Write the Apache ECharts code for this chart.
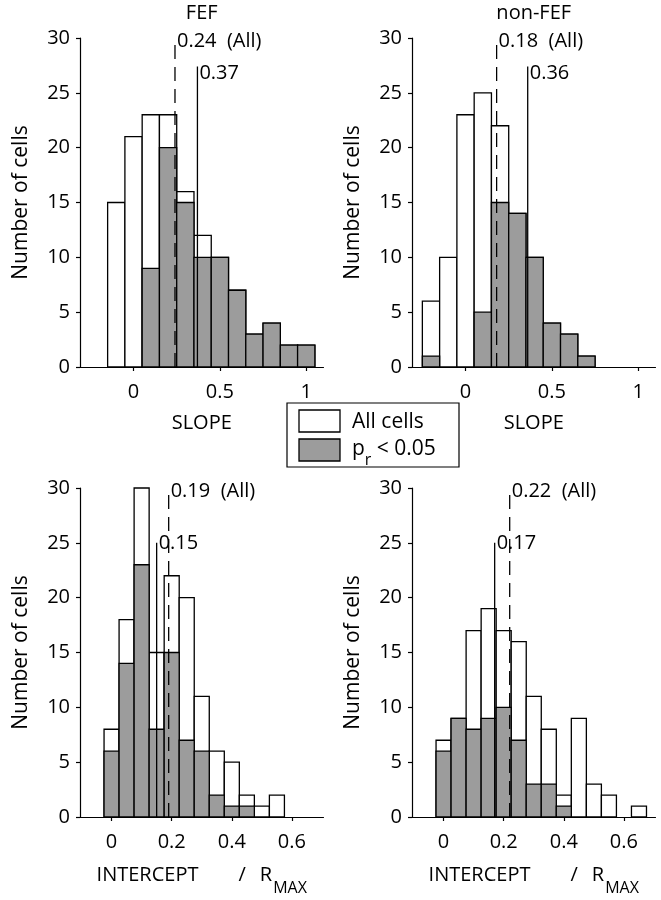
<!DOCTYPE html>
<html><head><meta charset="utf-8">
<script src="https://cdn.jsdelivr.net/npm/echarts@6/dist/echarts.min.js"></script>
<style>html,body{margin:0;padding:0;background:#fff}#c{width:661px;height:900px}</style>
</head><body><div id="c"></div>
<script>
// ---- data ----
const slopeBinsFEF = [-0.1, 0, 0.1, 0.2, 0.3, 0.4, 0.5, 0.6, 0.7, 0.8, 0.9, 1.0];
const slopeAllFEF  = [15, 21, 23, 23, 16, 12, 10, 7, 3, 4, 2, 2];
const slopeSigFEF  = [0, 0, 9, 20, 15, 10, 10, 7, 3, 4, 2, 2];

const slopeBinsNon = [-0.2, -0.1, 0, 0.1, 0.2, 0.3, 0.4, 0.5, 0.6, 0.7];
const slopeAllNon  = [6, 10, 23, 25, 22, 14, 10, 4, 3, 1];
const slopeSigNon  = [1, 0, 0, 5, 15, 14, 10, 4, 3, 1];

const interBinsFEF = [0, 0.05, 0.1, 0.15, 0.2, 0.25, 0.3, 0.35, 0.4, 0.45, 0.5, 0.55];
const interAllFEF  = [8, 18, 30, 15, 22, 20, 11, 6, 5, 2, 1, 2];
const interSigFEF  = [6, 14, 23, 8, 15, 7, 6, 2, 1, 1, 0, 0];

const interBinsNon = [0, 0.05, 0.1, 0.15, 0.2, 0.25, 0.3, 0.35, 0.4, 0.45, 0.5, 0.55, 0.6, 0.65];
const interAllNon  = [7, 9, 17, 19, 17, 16, 11, 8, 2, 9, 3, 2, 0, 1];
const interSigNon  = [6, 9, 8, 9, 10, 7, 3, 3, 1, 0, 0, 0, 0, 0];

const medianAll = [0.24, 0.18, 0.19, 0.22];
const medianSig = [0.37, 0.36, 0.15, 0.17];

const panelTitles = ['FEF', 'non-FEF'];
const slopeTicks = [0, 0.5, 1];
const interceptTicks = [0, 0.2, 0.4, 0.6];
const legendNames = ['All cells', 'p_r < 0.05'];

// ---- layout ----
const FONT = 'Open Sans';
const GRAY = '#9c9c9c';
const panels = [
  {bins: slopeBinsFEF, all: slopeAllFEF, sig: slopeSigFEF, bw: 0.1, ticks: slopeTicks, min: -0.31, max: 1.1, left: 80, top: 38, sigTop: 27.4, sigLab: 26.8, name: 'slope'},
  {bins: slopeBinsNon, all: slopeAllNon, sig: slopeSigNon, bw: 0.1, ticks: slopeTicks, min: -0.31, max: 1.1, left: 412, top: 38, sigTop: 27.4, sigLab: 26.8, name: 'slope'},
  {bins: interBinsFEF, all: interAllFEF, sig: interSigFEF, bw: 0.05, ticks: interceptTicks, min: -0.105, max: 0.705, left: 80, top: 488, sigTop: 25, sigLab: 25, name: 'inter'},
  {bins: interBinsNon, all: interAllNon, sig: interSigNon, bw: 0.05, ticks: interceptTicks, min: -0.105, max: 0.705, left: 412, top: 488, sigTop: 25, sigLab: 25, name: 'inter'}
];
const GW = 243.5, GH = 329;

function barRender(fill, half) {
  return function (params, api) {
    const x = api.value(0), y = api.value(1);
    if (!(y > 0)) return null;
    const p0 = api.coord([x - half, y]);
    const p1 = api.coord([x + half, 0]);
    return {
      type: 'rect',
      shape: {x: p0[0], y: p0[1], width: p1[0] - p0[0], height: p1[1] - p0[1]},
      style: {fill: fill, stroke: '#000', lineWidth: 1.3}
    };
  };
}

const grid = [], xAxis = [], yAxis = [], series = [];
panels.forEach((p, i) => {
  grid.push({left: p.left, top: p.top, width: GW, height: GH, containLabel: false});
  const xa = {
    type: 'value', gridIndex: i, min: p.min, max: p.max,
    axisLine: {show: true, onZero: false, lineStyle: {color: '#000', width: 1.2}},
    axisTick: {show: true, length: 4, inside: false, customValues: p.ticks, lineStyle: {color: '#000', width: 1.2}},
    axisLabel: {show: true, customValues: p.ticks, color: '#000', fontSize: 20, fontFamily: FONT, margin: 15},
    splitLine: {show: false}
  };
  if (p.name === 'slope') {
    xa.name = 'SLOPE';
    xa.nameLocation = 'middle';
    xa.nameGap = 46;
    xa.nameTextStyle = {color: '#000', fontSize: 20, fontFamily: FONT};
  } else {
    xa.name = '{a|INTERCEPT}{g1| }{a|/}{g2| }{a|R}{s|MAX}';
    xa.nameLocation = 'middle';
    xa.nameGap = 48;
    xa.nameTextStyle = {
      color: '#000', fontFamily: FONT, fontSize: 20,
      rich: {
        a: {fontSize: 20, fontFamily: FONT, color: '#000', lineHeight: 22, verticalAlign: 'top'},
        g1: {width: 40, lineHeight: 22, verticalAlign: 'top'},
        g2: {width: 14, lineHeight: 22, verticalAlign: 'top'},
        s: {fontSize: 16, fontFamily: FONT, color: '#000', lineHeight: 16, verticalAlign: 'top', padding: [15, 0, 0, 1]}
      }
    };
  }
  xAxis.push(xa);
  yAxis.push({
    type: 'value', gridIndex: i, min: 0, max: 30, interval: 5,
    axisLine: {show: true, onZero: false, lineStyle: {color: '#000', width: 1.2}},
    axisTick: {show: true, length: 4, inside: false, lineStyle: {color: '#000', width: 1.2}},
    axisLabel: {color: '#000', fontSize: 20, fontFamily: FONT, margin: 10},
    splitLine: {show: false},
    name: 'Number of cells', nameLocation: 'middle', nameGap: 48,
    nameTextStyle: {color: '#000', fontSize: 21, fontFamily: FONT}
  });
  const allData = p.bins.map((b, k) => [b, p.all[k]]);
  const sigData = p.bins.map((b, k) => [b, p.sig[k]]);
  series.push({
    name: legendNames[0], type: 'custom', xAxisIndex: i, yAxisIndex: i,
    renderItem: barRender('#fff', p.bw / 2), encode: {x: 0, y: 1}, data: allData, z: 2, silent: true
  });
  series.push({
    name: legendNames[1], type: 'custom', xAxisIndex: i, yAxisIndex: i,
    renderItem: barRender(GRAY, p.bw / 2), encode: {x: 0, y: 1}, data: sigData, z: 3, silent: true
  });
  series.push({
    type: 'line', xAxisIndex: i, yAxisIndex: i, symbol: 'none', silent: true, z: 5,
    data: [[medianAll[i], 0], [medianAll[i], 30]],
    lineStyle: {color: '#000', width: 1.3, type: [14, 8]}
  });
  series.push({
    type: 'line', xAxisIndex: i, yAxisIndex: i, symbol: 'none', silent: true, z: 5,
    data: [[medianSig[i], 0], [medianSig[i], p.sigTop]],
    lineStyle: {color: '#000', width: 1.3, type: 'solid'}
  });
  series.push({
    type: 'scatter', xAxisIndex: i, yAxisIndex: i, symbolSize: 0, silent: true, z: 6,
    itemStyle: {opacity: 1},
    data: [
      [medianAll[i], 29.7, medianAll[i].toFixed(2) + '  (All)'],
      [medianSig[i], p.sigLab, medianSig[i].toFixed(2)]
    ],
    label: {show: true, position: 'right', distance: 2, color: '#000', opacity: 1, fontSize: 20, fontFamily: FONT,
      formatter: (q) => q.value[2]}
  });
});

const graphic = [
  {type: 'text', x: 80 + GW / 2, y: 13, style: {text: panelTitles[0], fill: '#000', font: '20px "' + FONT + '"', align: 'center', verticalAlign: 'middle'}},
  {type: 'text', x: 412 + GW / 2, y: 13, style: {text: panelTitles[1], fill: '#000', font: '20px "' + FONT + '"', align: 'center', verticalAlign: 'middle'}},
  // legend
  {type: 'rect', shape: {x: 287, y: 403, width: 172, height: 64}, style: {fill: '#fff', stroke: '#000', lineWidth: 1.2}, z: 10},
  {type: 'rect', shape: {x: 299, y: 410, width: 41, height: 22}, style: {fill: '#fff', stroke: '#000', lineWidth: 1.3}, z: 11},
  {type: 'rect', shape: {x: 299, y: 439, width: 41, height: 22}, style: {fill: GRAY, stroke: '#000', lineWidth: 1.3}, z: 11},
  {type: 'text', x: 352, y: 422, z: 11, style: {text: legendNames[0], fill: '#000', font: '21px "' + FONT + '"', align: 'left', verticalAlign: 'middle'}},
  {type: 'text', x: 352, y: 439, z: 11, style: {
    text: '{m|p}{s|r}{m| < 0.05}', align: 'left', verticalAlign: 'top',
    rich: {
      m: {fontSize: 21, fontFamily: FONT, fill: '#000', lineHeight: 22, verticalAlign: 'top'},
      s: {fontSize: 16, fontFamily: FONT, fill: '#000', lineHeight: 16, verticalAlign: 'top', padding: [13, 0, 0, 0]}
    }
  }}
];

const chart = echarts.init(document.getElementById('c'), null, {renderer: 'canvas'});
chart.setOption({
  animation: false,
  backgroundColor: '#fff',
  textStyle: {fontFamily: FONT},
  grid: grid, xAxis: xAxis, yAxis: yAxis, series: series, graphic: graphic
});
</script></body></html>
